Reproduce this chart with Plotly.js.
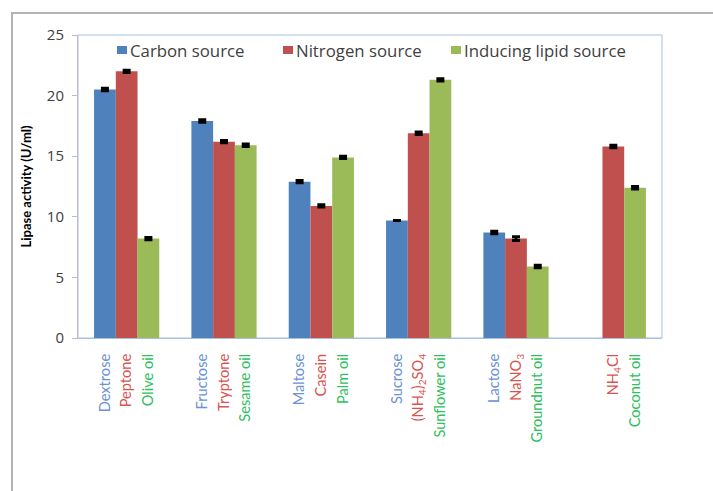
<!DOCTYPE html>
<html>
<head>
<meta charset="utf-8">
<script src="https://cdn.plot.ly/plotly-3.0.1.min.js"></script>
<style>
  html, body { margin:0; padding:0; background:#fff; }
  #wrap { position:relative; width:713px; height:491px; overflow:hidden; }
  #chart { position:absolute; left:0; top:0; width:713px; height:491px; }
  #frame { position:absolute; left:11px; top:12px; width:760px; height:520px;
           border-left:2px solid #b4b4b4; border-top:2px solid #b4b4b4; pointer-events:none; }
</style>
</head>
<body>
<div id="wrap"><div id="chart"></div><div id="frame"></div></div>
<script>
// ---- data ----
var groups = [0, 1, 2, 3, 4, 5];
var seriesNames = ["Carbon source", "Nitrogen source", "Inducing lipid source"];
var carbonLabels   = ["Dextrose", "Fructose", "Maltose", "Sucrose", "Lactose", ""];
var nitrogenLabels = ["Peptone", "Tryptone", "Casein", "(NH<sub>4</sub>)<sub>2</sub>SO<sub>4</sub>", "NaNO<sub>3</sub>", "NH<sub>4</sub>Cl"];
var lipidLabels    = ["Olive oil", "Sesame oil", "Palm oil", "Sunflower oil", "Groundnut oil", "Coconut oil"];
var carbonValues   = [20.5, 17.9, 12.9, 9.7, 8.7, null];
var nitrogenValues = [22.0, 16.2, 10.9, 16.9, 8.2, 15.8];
var lipidValues    = [8.2, 15.9, 14.9, 21.3, 5.9, 12.4];
var carbonErr      = [0.1, 0.1, 0.1, 0, 0.1, 0];
var nitrogenErr    = [0.1, 0.1, 0.1, 0.1, 0.15, 0.1];
var lipidErr       = [0.1, 0.1, 0.1, 0.1, 0.1, 0.1];
var yTicks = [0, 5, 10, 15, 20, 25];

// ---- style ----
var barColors   = ["#4F81BD", "#C0504D", "#9BBB59"];
var labelColors = ["#6A92D4", "#D9534F", "#2EC05E"];
var FONT = "Lato, 'Open Sans', sans-serif";
var LEGFONT = "'Open Sans', Lato, sans-serif";
var bargap = 0.33;
var barW = (1 - bargap) / 3;

// plot-area geometry (pixels) used only to place the hand-drawn legend
var M = { l: 78, r: 51, t: 35, b: 153 };
var PW = 713 - M.l - M.r, PH = 491 - M.t - M.b;
function px2x(px) { return (px - M.l) / PW; }
function py2y(py) { return (491 - M.b - py) / PH; }
var legendBoxLeft = [117, 283, 451];   // px
var legendY = 50;                        // px

var valueSets = [carbonValues, nitrogenValues, lipidValues];
var errSets = [carbonErr, nitrogenErr, lipidErr];
var labelSets = [carbonLabels, nitrogenLabels, lipidLabels];

var traces = valueSets.map(function (vals, s) {
  return {
    type: "bar",
    name: seriesNames[s],
    x: groups,
    y: vals,
    marker: { color: barColors[s] },
    error_y: { type: "data", array: errSets[s], visible: true, color: "#000", thickness: 3, width: 4 },
    hoverinfo: "y",
    showlegend: false
  };
});

var tickvals = [], ticktext = [];
groups.forEach(function (g) {
  labelSets.forEach(function (labs, s) {
    if (labs[g]) {
      tickvals.push(g + (s - 1) * barW);
      ticktext.push('<span style="color:' + labelColors[s] + '">' + labs[g] + '</span>');
    }
  });
});

var shapes = [{
  type: "rect", xref: "paper", yref: "paper", x0: 0, x1: 1, y0: 0, y1: 1,
  line: { color: "#A7C0DE", width: 1 }, layer: "below"
}];
var annotations = [];
seriesNames.forEach(function (name, s) {
  var bx = legendBoxLeft[s];
  shapes.push({
    type: "rect", xref: "paper", yref: "paper",
    x0: px2x(bx), x1: px2x(bx + 10), y0: py2y(legendY + 4), y1: py2y(legendY - 4),
    fillcolor: barColors[s], line: { width: 0 }, layer: "above"
  });
  annotations.push({
    xref: "paper", yref: "paper", x: px2x(bx + 11), y: py2y(legendY),
    xanchor: "left", yanchor: "middle", showarrow: false, text: name,
    font: { family: LEGFONT, size: 16.8, color: "#404040" }
  });
});

var layout = {
  width: 713, height: 491,
  margin: M,
  paper_bgcolor: "rgba(0,0,0,0)",
  plot_bgcolor: "#fff",
  barmode: "group",
  bargap: bargap,
  bargroupgap: 0,
  showlegend: false,
  font: { family: FONT, color: "#404040" },
  xaxis: {
    type: "linear", range: [-0.5, 5.5],
    tickvals: tickvals, ticktext: ticktext, tickangle: -90,
    tickfont: { family: FONT, size: 14.6 },
    showgrid: false, zeroline: false,
    showline: true, linecolor: "#A7C0DE", linewidth: 1,
    ticks: "", ticklabelstandoff: 9, fixedrange: true
  },
  yaxis: {
    range: [0, 25], tickvals: yTicks,
    tickfont: { family: LEGFONT, size: 15, color: "#404040" },
    showgrid: false, zeroline: false,
    showline: true, linecolor: "#BFBFBF", linewidth: 1,
    ticks: "outside", ticklen: 5, tickcolor: "#BFBFBF", ticklabelstandoff: 5,
    title: { text: "<b>Lipase activity (U/ml)</b>", font: { family: FONT, size: 13, color: "#000" }, standoff: 12 },
    fixedrange: true
  },
  shapes: shapes,
  annotations: annotations
};

Plotly.newPlot("chart", traces, layout, { displayModeBar: false, staticPlot: true });
</script>
</body>
</html>
